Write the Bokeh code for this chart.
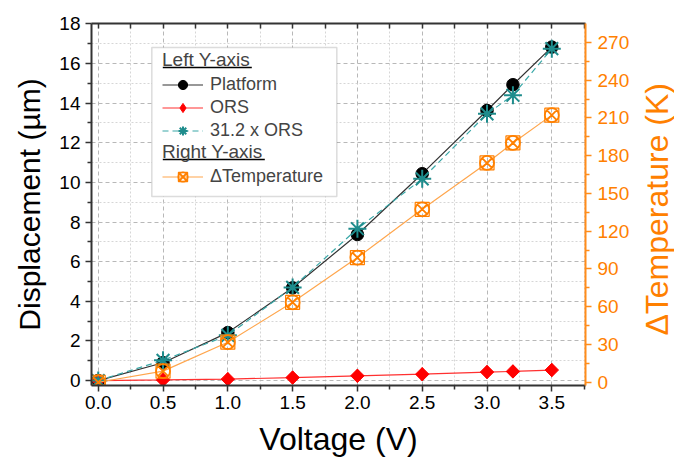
import math
from bokeh.plotting import figure
from bokeh.models import (Range1d, LinearAxis, FixedTicker, NumeralTickFormatter,
                          Legend, LegendItem, BoxAnnotation, Div)
from bokeh.layouts import row
from bokeh.embed import file_html
from bokeh.resources import INLINE

# ---------------- data ----------------
voltage = [0.0, 0.5, 1.0, 1.5, 2.0, 2.5, 3.0, 3.2, 3.5]
platform = [0.0, 0.90, 2.42, 4.68, 7.37, 10.44, 13.63, 14.93, 16.83]
ors = [0.0, 0.03, 0.07, 0.15, 0.24, 0.32, 0.43, 0.46, 0.53]
ors_x31 = [0.0, 1.02, 2.28, 4.70, 7.66, 10.18, 13.46, 14.40, 16.75]
delta_t = [0.0, 8.8, 31.8, 63.5, 99.0, 137.4, 174.2, 190.1, 212.2]

x_ticks = [0.0, 0.5, 1.0, 1.5, 2.0, 2.5, 3.0, 3.5]
x_minor = [0.25, 0.75, 1.25, 1.75, 2.25, 2.75, 3.25, 3.75]
x_all = sorted(x_ticks + x_minor)
y_ticks = [0, 2, 4, 6, 8, 10, 12, 14, 16, 18]
y_minor = [1, 3, 5, 7, 9, 11, 13, 15, 17]
t_ticks = [0, 30, 60, 90, 120, 150, 180, 210, 240, 270]
t_minor = [15, 45, 75, 105, 135, 165, 195, 225, 255]

FONT = "Liberation Sans"
ORANGE = "#FF8000"
AXIS = "#333333"

p = figure(width=640, height=459,
           x_range=Range1d(-0.052, 3.76), y_range=Range1d(-0.25, 18.02),
           output_backend="svg", toolbar_location=None,
           min_border_left=91, min_border_right=55, min_border_top=23, min_border_bottom=74)
p.extra_y_ranges = {"temp": Range1d(-2.6, 285)}
p.outline_line_color = None
p.background_fill_color = "white"
p.border_fill_color = "white"

# grids
for g, tk, mn in ((p.xgrid, x_ticks, x_minor), (p.ygrid, y_ticks, y_minor)):
    g.ticker = FixedTicker(ticks=tk, minor_ticks=mn)
    g.grid_line_color = "#b8b8b8"
    g.grid_line_dash = "4 3"
    g.grid_line_width = 1
    g.minor_grid_line_color = "#d6d6d6"
    g.minor_grid_line_dash = "2 2"
    g.minor_grid_line_width = 1

def style_axis(ax, color="black", line_color=AXIS):
    ax.axis_line_color = line_color
    ax.axis_line_width = 2
    ax.major_tick_line_color = line_color
    ax.minor_tick_line_color = line_color
    ax.major_tick_line_width = 1.5
    ax.minor_tick_line_width = 1.5
    ax.major_tick_out = 6
    ax.major_tick_in = 0
    ax.minor_tick_out = 4
    ax.minor_tick_in = 0
    ax.major_label_text_font = FONT
    ax.major_label_text_font_size = "19px"
    ax.major_label_text_color = color
    ax.axis_label_text_font = FONT
    ax.axis_label_text_font_style = "normal"
    ax.axis_label_text_color = color

# bottom axis
xa = p.xaxis[0]
xa.ticker = FixedTicker(ticks=x_ticks, minor_ticks=x_minor)
xa.formatter = NumeralTickFormatter(format="0.0")
style_axis(xa)
xa.axis_label = "Voltage (V)"
xa.axis_label_text_font_size = "32px"
xa.major_label_standoff = 4
xa.axis_label_standoff = 9

# left axis
ya = p.yaxis[0]
ya.ticker = FixedTicker(ticks=y_ticks, minor_ticks=y_minor)
style_axis(ya)
ya.axis_label = "Displacement (µm)"
ya.axis_label_text_font_size = "30px"
ya.major_label_standoff = 5
ya.axis_label_standoff = 10

# top axis (inward ticks only, no labels)
top = LinearAxis(ticker=FixedTicker(ticks=[], minor_ticks=x_all))
style_axis(top)
top.major_tick_in = 0
top.major_tick_out = 0
top.minor_tick_in = 5
top.minor_tick_out = 0
top.major_label_standoff = 0
p.add_layout(top, "above")

# right axis (temperature); its title is a rotated text block next to the figure
ra = LinearAxis(y_range_name="temp", ticker=FixedTicker(ticks=t_ticks, minor_ticks=t_minor))
style_axis(ra, color=ORANGE, line_color="#FF8C1A")
ra.major_label_standoff = 6
p.add_layout(ra, "right")

# ---------------- series ----------------
r_pl_line = p.line(voltage, platform, line_color="#333333", line_width=1.2)
r_pl_pts = p.scatter(voltage, platform, marker="circle", size=12.5,
                     fill_color="black", line_color="black")

r_ors_line = p.line(voltage, ors, line_color="#FF3030", line_width=1.2)
r_ors_key = p.scatter(voltage, ors, marker="diamond", size=13,
                      fill_color="#FF0000", line_color="#FF0000")
r_ors_pts = p.scatter(voltage, ors, marker="square", angle=math.pi / 4, size=9.5,
                      fill_color="#FF0000", line_color="#FF0000")

r_x31_line = p.line(voltage, ors_x31, line_color="#3AA8A8", line_width=1.2, line_dash="6 4")
r_x31_pts = p.scatter(voltage, ors_x31, marker="asterisk", size=18,
                      line_color="#1E8C8C", line_width=2)

r_t_line = p.line(voltage, delta_t, y_range_name="temp", line_color="#FFA64D", line_width=1.2)
r_t_sq = p.scatter(voltage, delta_t, y_range_name="temp", marker="square", size=14,
                   fill_color=None, line_color=ORANGE, line_width=1.2)
r_t_cx = p.scatter(voltage, delta_t, y_range_name="temp", marker="circle_x", size=14,
                   fill_color=None, line_color=ORANGE, line_width=1.8)

# ---------------- legend ----------------
box = BoxAnnotation(left=60.3, right=245.3, top=338, bottom=189,
                    left_units="screen", right_units="screen",
                    top_units="screen", bottom_units="screen",
                    fill_color="white", fill_alpha=1.0,
                    line_color="#8c8c8c", line_width=1.5)
p.add_layout(box)

def make_legend(items, title, loc):
    lg = Legend(items=items, title=title, location=loc)
    lg.label_text_font = FONT
    lg.label_text_font_size = "18px"
    lg.title_text_font = FONT
    lg.title_text_font_size = "19px"
    lg.title_text_font_style = "normal"
    lg.title_standoff = 2
    lg.glyph_width = 41
    lg.glyph_height = 23
    lg.label_height = 23
    lg.label_standoff = 7
    lg.spacing = 0
    lg.padding = 0
    lg.margin = 0
    lg.border_line_alpha = 0
    lg.background_fill_alpha = 0
    return lg

leg_a = make_legend([
    LegendItem(label="Platform", renderers=[r_pl_line, r_pl_pts]),
    LegendItem(label="ORS", renderers=[r_ors_line, r_ors_key]),
    LegendItem(label="31.2 x ORS", renderers=[r_x31_line, r_x31_pts]),
], "Left Y-axis", (71, 243))
leg_b = make_legend([
    LegendItem(label="ΔTemperature", renderers=[r_t_line, r_t_sq, r_t_cx]),
], "Right Y-axis", (71, 197))
p.add_layout(leg_a)
p.add_layout(leg_b)

# header underlines
for l, r, yv in ((71.3, 160.3, 318.0), (71.3, 173.3, 226.0)):
    p.add_layout(BoxAnnotation(left=l, right=r, top=yv + 0.7, bottom=yv - 0.7,
                               left_units="screen", right_units="screen",
                               top_units="screen", bottom_units="screen",
                               fill_color="black", fill_alpha=1.0, line_color=None))

# right axis title, read bottom-to-top
right_title = Div(
    text=('<div style="width:34px;height:418px;display:flex;align-items:center;'
          'justify-content:center;overflow:visible;">'
          '<span style="writing-mode:vertical-rl;transform:rotate(180deg);'
          "font-family:'Liberation Sans',Arial,sans-serif;font-size:32px;"
          'color:#FF8000;white-space:nowrap;line-height:1;">ΔTemperature (K)</span></div>'),
    width=34, height=459, margin=(0, 0, 0, 0))

layout = row(p, right_title, spacing=0)
open("out.html", "w").write(file_html(layout, INLINE))
